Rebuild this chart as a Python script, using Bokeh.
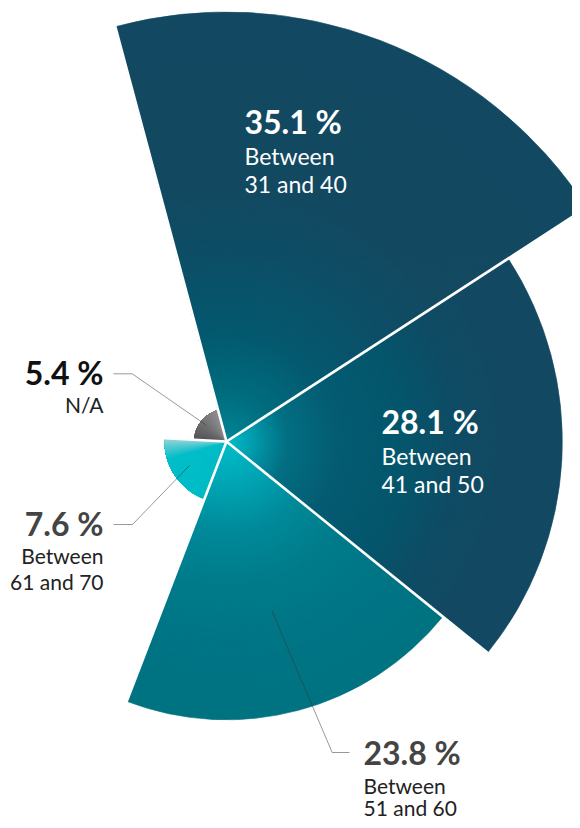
import math
from bokeh.plotting import figure
from bokeh.models import Range1d, ColumnDataSource
from bokeh.embed import file_html
from bokeh.resources import INLINE
from bokeh.core.properties import value

# ---------------- data ----------------
categories = ["Between 31 and 40", "Between 41 and 50", "Between 51 and 60",
              "Between 61 and 70", "N/A"]
shares = [35.1, 28.1, 23.8, 7.6, 5.4]
sub_line1 = ["Between", "Between", "Between", "Between", "N/A"]
sub_line2 = ["31 and 40", "41 and 50", "51 and 60", "61 and 70", ""]

# radial axis minimum (radius = share - R_MIN in data units)
R_MIN = 3.0

# ---------------- layout / style ----------------
W, H = 572, 820
PX = 13.38            # pixels per data unit
CX, CY = 226, 441     # centre of the rose, pixels from top-left
START_DEG = 105.0     # left edge of first slice, slices run clockwise

FONT = "Lato"
PCT_SIZE = 32
BASELINE_FIX = 0.39   # em; compensates the renderer's baseline placement


def to_data(px, py):
    """pixel (from top-left) -> data coordinates"""
    return (px - CX) / PX, (CY - py) / PX


def hex2rgb(h):
    h = h.lstrip("#")
    return tuple(int(h[i:i + 2], 16) for i in (0, 2, 4))


def interp(stops, t):
    if t <= stops[0][0]:
        return stops[0][1]
    for (t0, c0), (t1, c1) in zip(stops[:-1], stops[1:]):
        if t <= t1:
            f = (t - t0) / (t1 - t0) if t1 > t0 else 0
            a, b = hex2rgb(c0), hex2rgb(c1)
            return "#%02x%02x%02x" % tuple(int(round(a[k] + (b[k] - a[k]) * f)) for k in range(3))
    return stops[-1][1]


# gradient specs (radial stops in px, angular stops in degrees from slice's low edge)
gradients = [
    ("radial", [(0, "#008696"), (50, "#006c7e"), (110, "#04596f"), (190, "#0d4e66"),
                (250, "#134a62"), (500, "#134962")]),
    ("radial", [(0, "#00bdc9"), (22, "#00a2b2"), (60, "#036f83"), (110, "#045c72"),
                (175, "#04566c"), (235, "#0f4b64"), (280, "#134962"), (500, "#134962")]),
    ("radial", [(0, "#00bdc9"), (40, "#00a7b6"), (90, "#008a9a"), (140, "#007c8b"),
                (200, "#007585"), (300, "#007280")]),
    ("angular", [(0, "#97d6db"), (7, "#5ccad1"), (20, "#00bec8"), (72, "#00bbc5")]),
    ("angular", [(0, "#909092"), (35, "#727274"), (72, "#545457")]),
]

n = len(shares)
span = 360.0 / n
radii = [s - R_MIN for s in shares]

p = figure(width=W, height=H, output_backend="svg", toolbar_location=None,
           x_range=Range1d(-CX / PX, (W - CX) / PX),
           y_range=Range1d(-(H - CY) / PX, CY / PX),
           min_border=0, background_fill_color="white", border_fill_color="white")
p.axis.visible = False
p.grid.visible = False
p.outline_line_color = None

# ---------------- slices (gradient approximated by nested wedges) ----------------
wx, wy, wr, ws, we, wc = [], [], [], [], [], []
for i, (r, (kind, stops)) in enumerate(zip(radii, gradients)):
    a_hi = START_DEG - i * span
    a_lo = a_hi - span
    if kind == "radial":
        step = 2.5 / PX
        rr = r
        while rr > 0:
            mid_px = max(rr - step / 2, 0) * PX
            wx.append(0); wy.append(0); wr.append(rr)
            ws.append(math.radians(a_lo)); we.append(math.radians(a_hi))
            wc.append(interp(stops, mid_px))
            rr -= step
    else:
        step = 1.0
        a = a_hi
        while a > a_lo + 1e-9:
            d = a - a_lo
            wx.append(0); wy.append(0); wr.append(r)
            ws.append(math.radians(a_lo)); we.append(math.radians(a))
            wc.append(interp(stops, max(d - step / 2, 0)))
            a -= step

p.wedge(x="x", y="y", radius="r", start_angle="s", end_angle="e",
        fill_color="c", line_color="c", line_width=0.6,
        source=ColumnDataSource(dict(x=wx, y=wy, r=wr, s=ws, e=we, c=wc)))

# ---------------- white separators ----------------
sx1, sy1 = [], []
for i in range(n):
    ang = math.radians(START_DEG - i * span)
    length = max(radii[i], radii[i - 1]) + 0.3
    sx1.append(length * math.cos(ang)); sy1.append(length * math.sin(ang))
p.segment(x0=[0] * n, y0=[0] * n, x1=sx1, y1=sy1, line_color="white", line_width=2.6)

# ---------------- leader lines for outside labels ----------------
leader_frac = {2: 0.63, 3: 0.72, 4: 0.80}
leader_elbow = {2: [(349, 752), (331.7, 752)],
                3: [(113, 524), (132, 524)],
                4: [(113, 373.3), (131.7, 373.3)]}
lxs, lys = [], []
for i, frac in leader_frac.items():
    mid = math.radians(START_DEG - (i + 0.5) * span)
    ex, ey = radii[i] * frac * math.cos(mid), radii[i] * frac * math.sin(mid)
    pts = [to_data(*q) for q in leader_elbow[i]]
    lxs.append([pts[0][0], pts[1][0], ex])
    lys.append([pts[0][1], pts[1][1], ey])
p.multi_line(xs=lxs, ys=lys, line_color="#333333", line_alpha=0.5, line_width=1)

# ---------------- labels ----------------
# (x, baseline of pct, baseline line1, baseline line2) in px, alignment, colours, sub size
label_layout = [
    (244, 133, 164, 192, "left", "white", "white", 23),
    (381, 433, 464, 492, "left", "white", "white", 23),
    (363, 764, 793, 815, "left", "#444444", "#222222", 21),
    (103, 535, 563, 589, "right", "#444444", "#222222", 21),
    (103, 384, 412, 0, "right", "#111111", "#222222", 21),
]

pt_x, pt_y, pt_t, pt_c, pt_a = [], [], [], [], []
st_x, st_y, st_t, st_c, st_a, st_s = [], [], [], [], [], []
for i, (lx, b0, b1, b2, al, c_pct, c_sub, fs) in enumerate(label_layout):
    x0, y0 = to_data(lx, b0 - BASELINE_FIX * PCT_SIZE)
    pt_x.append(x0); pt_y.append(y0); pt_t.append(f"{shares[i]} %")
    pt_c.append(c_pct); pt_a.append(al)
    for txt, b in ((sub_line1[i], b1), (sub_line2[i], b2)):
        if not txt:
            continue
        xx, yy = to_data(lx, b - BASELINE_FIX * fs)
        st_x.append(xx); st_y.append(yy); st_t.append(txt)
        st_c.append(c_sub); st_a.append(al); st_s.append(f"{fs}px")

p.text(x="x", y="y", text="t", text_color="c", text_align="a",
       text_baseline="alphabetic", text_font=value(FONT), text_font_style="bold",
       text_font_size=f"{PCT_SIZE}px",
       source=ColumnDataSource(dict(x=pt_x, y=pt_y, t=pt_t, c=pt_c, a=pt_a)))
p.text(x="x", y="y", text="t", text_color="c", text_align="a",
       text_baseline="alphabetic", text_font=value(FONT), text_font_size="s",
       source=ColumnDataSource(dict(x=st_x, y=st_y, t=st_t, c=st_c, a=st_a, s=st_s)))

open("out.html", "w").write(file_html(p, INLINE))
